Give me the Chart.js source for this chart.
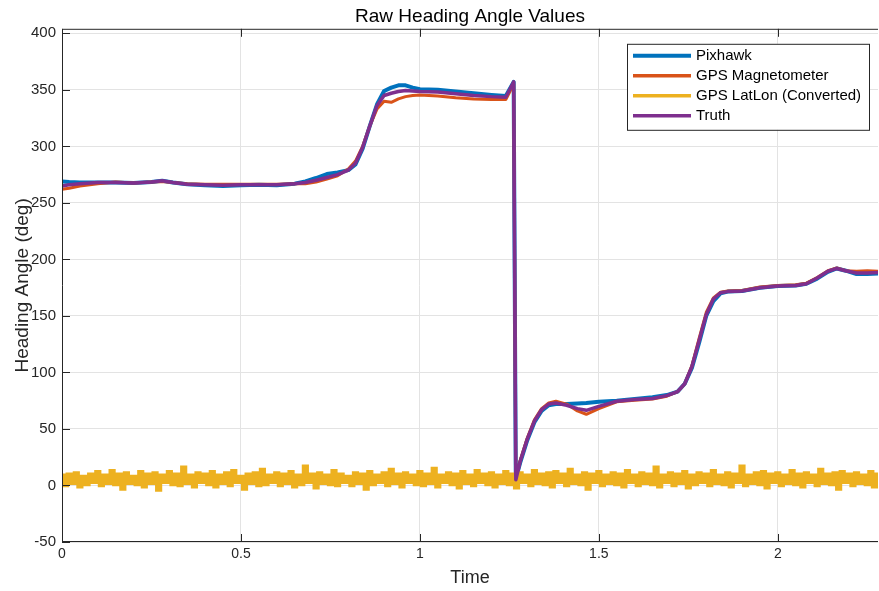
<!DOCTYPE html>
<html>
<head>
<meta charset="utf-8">
<title>Raw Heading Angle Values</title>
<script src="https://cdn.jsdelivr.net/npm/chart.js@4.4.1/dist/chart.umd.min.js"></script>
<style>
  html, body { margin: 0; padding: 0; background: #fff; }
  #wrap { width: 879px; height: 591px; }
</style>
</head>
<body>
<div id="wrap"><canvas id="myChart"></canvas></div>
<script>
// time stamps shared by the three heading traces
const tHead = [0, 0.02, 0.05, 0.1, 0.15, 0.2, 0.25, 0.28, 0.31, 0.35,
  0.4, 0.45, 0.5, 0.55, 0.6, 0.65, 0.68, 0.71, 0.74, 0.77,
  0.8, 0.82, 0.84, 0.86, 0.88, 0.9, 0.92, 0.94, 0.96, 0.98,
  1.0, 1.05, 1.1, 1.15, 1.2, 1.24, 1.262, 1.268, 1.28, 1.3,
  1.32, 1.34, 1.36, 1.38, 1.41, 1.44, 1.465, 1.5, 1.55, 1.6,
  1.65, 1.69, 1.72, 1.74, 1.76, 1.78, 1.8, 1.82, 1.84, 1.86,
  1.9, 1.95, 2.0, 2.05, 2.08, 2.11, 2.14, 2.165, 2.19, 2.22,
  2.25, 2.28];

const pixhawk = [269, 268.5, 268, 268, 268, 267.5, 268.5, 269.5, 268, 266.5,
  265.5, 265, 265.5, 266, 265.5, 267, 269, 272, 275.5, 277,
  279, 284, 298, 318, 337, 349, 352, 354, 354, 352,
  350.5, 350, 348.5, 347, 345.5, 344.5, 357, 6, 20, 40,
  56, 66, 71, 72, 72, 72.5, 73, 74, 75, 76.5,
  78, 80, 83, 90, 104, 126, 150, 163, 170, 171.5,
  172, 175, 176.5, 177, 178.5, 183, 189, 192, 190, 187,
  187, 187.5];

const gpsMag = [262, 263, 265, 267, 268.5, 267.5, 268.5, 269, 268, 267,
  266.5, 266.5, 266.5, 266.5, 266.5, 267, 267, 268.5, 271, 274,
  280, 287, 300, 318, 333, 340, 339, 342, 344, 345,
  345.5, 344.5, 343, 342, 341.5, 341.5, 355, 6, 22, 42,
  58, 68, 73, 74.5, 72, 66, 63, 68, 74, 75.5,
  76.5, 79, 83, 90, 106, 130, 153, 166, 171, 172,
  172.5, 175.5, 177, 177.5, 179, 184, 190, 192.5, 190, 189.5,
  190, 189.5];

const truth = [265, 266, 267, 268, 268, 267.5, 268.5, 269.5, 268, 266.5,
  266, 265.5, 266, 266, 266, 267, 268, 270, 272.5, 275,
  279, 285, 299, 318, 336, 345, 347, 348.5, 349.5, 349,
  348.5, 348, 346.5, 345, 344, 343.5, 357, 5, 21, 41,
  57, 67, 72, 73, 71, 68, 66.5, 70, 74.5, 76,
  77, 79.5, 83, 90, 105, 128, 151, 165, 170.5, 171.5,
  172, 175, 176.5, 177, 178.5, 183.5, 189.5, 192, 190, 188,
  188, 188.5];

// GPS lat/lon heading is sampled more often
const tLatLon = [
  0.00, 0.01, 0.02, 0.03, 0.04, 0.05, 0.06, 0.07, 0.08, 0.09,
  0.10, 0.11, 0.12, 0.13, 0.14, 0.15, 0.16, 0.17, 0.18, 0.19,
  0.20, 0.21, 0.22, 0.23, 0.24, 0.25, 0.26, 0.27, 0.28, 0.29,
  0.30, 0.31, 0.32, 0.33, 0.34, 0.35, 0.36, 0.37, 0.38, 0.39,
  0.40, 0.41, 0.42, 0.43, 0.44, 0.45, 0.46, 0.47, 0.48, 0.49,
  0.50, 0.51, 0.52, 0.53, 0.54, 0.55, 0.56, 0.57, 0.58, 0.59,
  0.60, 0.61, 0.62, 0.63, 0.64, 0.65, 0.66, 0.67, 0.68, 0.69,
  0.70, 0.71, 0.72, 0.73, 0.74, 0.75, 0.76, 0.77, 0.78, 0.79,
  0.80, 0.81, 0.82, 0.83, 0.84, 0.85, 0.86, 0.87, 0.88, 0.89,
  0.90, 0.91, 0.92, 0.93, 0.94, 0.95, 0.96, 0.97, 0.98, 0.99,
  1.00, 1.01, 1.02, 1.03, 1.04, 1.05, 1.06, 1.07, 1.08, 1.09,
  1.10, 1.11, 1.12, 1.13, 1.14, 1.15, 1.16, 1.17, 1.18, 1.19,
  1.20, 1.21, 1.22, 1.23, 1.24, 1.25, 1.26, 1.27, 1.28, 1.29,
  1.30, 1.31, 1.32, 1.33, 1.34, 1.35, 1.36, 1.37, 1.38, 1.39,
  1.40, 1.41, 1.42, 1.43, 1.44, 1.45, 1.46, 1.47, 1.48, 1.49,
  1.50, 1.51, 1.52, 1.53, 1.54, 1.55, 1.56, 1.57, 1.58, 1.59,
  1.60, 1.61, 1.62, 1.63, 1.64, 1.65, 1.66, 1.67, 1.68, 1.69,
  1.70, 1.71, 1.72, 1.73, 1.74, 1.75, 1.76, 1.77, 1.78, 1.79,
  1.80, 1.81, 1.82, 1.83, 1.84, 1.85, 1.86, 1.87, 1.88, 1.89,
  1.90, 1.91, 1.92, 1.93, 1.94, 1.95, 1.96, 1.97, 1.98, 1.99,
  2.00, 2.01, 2.02, 2.03, 2.04, 2.05, 2.06, 2.07, 2.08, 2.09,
  2.10, 2.11, 2.12, 2.13, 2.14, 2.15, 2.16, 2.17, 2.18, 2.19,
  2.20, 2.21, 2.22, 2.23, 2.24, 2.25, 2.26, 2.27, 2.28];

const gpsLatLon = [
  9, 0, 10, 2, 11, -1, 8, 1, 10, 3, 12, 0, 9, 2, 13, 1, 10, -3, 11, 2,
  8, 1, 12, -1, 10, 2, 11, -4, 9, 3, 12, 1, 10, 0, 16, 2, 9, -1, 11, 3,
  10, 1, 12, -1, 9, 2, 11, 0, 13, 3, 8, -3, 10, 2, 11, 0, 14, 1, 9, 3,
  11, 0, 10, 2, 12, -1, 9, 1, 17, 3, 10, -2, 11, 2, 9, 1, 13, 0, 10, 3,
  8, 0, 11, 2, 10, -3, 12, 1, 9, 3, 11, 0, 14, 2, 10, -1, 11, 3, 9, 1,
  12, 0, 10, 2, 15, -1, 9, 3, 11, 1, 10, -2, 12, 2, 9, 0, 13, 3, 10, 1,
  11, -1, 9, 2, 12, 1, 10, -2, 11, 3, 9, 0, 13, 2, 10, 1, 11, -1, 12, 3,
  10, 0, 14, 2, 9, 1, 11, -3, 10, 3, 12, 0, 9, 2, 11, 1, 10, -1, 13, 3,
  9, 0, 11, 2, 10, 1, 16, -1, 9, 3, 11, 0, 10, 2, 12, -2, 9, 1, 11, 3,
  10, 0, 13, 2, 9, 1, 11, -1, 10, 3, 17, 0, 9, 2, 11, 1, 12, -2, 10, 3,
  11, 0, 9, 2, 13, 1, 10, -1, 11, 3, 9, 0, 14, 2, 10, 1, 11, -3, 12, 3,
  10, 0, 11, 2, 9, 1, 12, -1, 10];

const xTicks = [0, 0.5, 1, 1.5, 2];
const yTicks = [-50, 0, 50, 100, 150, 200, 250, 300, 350, 400];

const pts = (xs, ys) => xs.map((x, i) => ({x: x, y: ys[i]}));
const FONT = '"Liberation Sans", Arial, sans-serif';
const INK = '#262626';

// MATLAB-ish box, inward ticks and legend
const matlabAxes = {
  id: 'matlabAxes',
  afterDatasetsDraw(chart) {
    const {ctx, chartArea: a, scales: {x, y}} = chart;
    ctx.save();
    ctx.strokeStyle = INK;
    ctx.lineWidth = 1;
    ctx.beginPath();
    xTicks.forEach(v => {
      const px = Math.round(x.getPixelForValue(v)) + 0.5;
      ctx.moveTo(px, a.bottom); ctx.lineTo(px, a.bottom - 8);
      ctx.moveTo(px, a.top); ctx.lineTo(px, a.top + 8);
    });
    yTicks.forEach(v => {
      const py = Math.round(y.getPixelForValue(v)) + 0.5;
      ctx.moveTo(a.left, py); ctx.lineTo(a.left + 8, py);
    });
    ctx.moveTo(a.left + 0.5, a.bottom); ctx.lineTo(a.left + 0.5, a.top + 0.5);
    ctx.lineTo(a.right, a.top + 0.5);
    ctx.moveTo(a.left, a.bottom - 0.5); ctx.lineTo(a.right, a.bottom - 0.5);
    ctx.stroke();

    const lx = a.right - 251, ly = a.top + 15, lw = 242, lh = 86;
    ctx.fillStyle = '#fff';
    ctx.fillRect(lx, ly, lw, lh);
    ctx.strokeStyle = INK;
    ctx.strokeRect(lx + 0.5, ly + 0.5, lw, lh);
    ctx.font = '15px ' + FONT;
    ctx.textBaseline = 'middle';
    chart.data.datasets.forEach((ds, i) => {
      const yy = ly + 12 + i * 20;
      ctx.strokeStyle = ds.borderColor;
      ctx.lineWidth = i === 0 ? 4 : 3.5;
      ctx.beginPath();
      ctx.moveTo(lx + 6, yy); ctx.lineTo(lx + 64, yy);
      ctx.stroke();
      ctx.fillStyle = '#000';
      ctx.fillText(ds.label, lx + 69, yy);
    });
    ctx.restore();
  }
};

new Chart('myChart', {
  type: 'line',
  data: {
    datasets: [
      {label: 'Pixhawk', data: pts(tHead, pixhawk), borderColor: '#0072BD', borderWidth: 4, order: 4},
      {label: 'GPS Magnetometer', data: pts(tHead, gpsMag), borderColor: '#D95319', borderWidth: 3, order: 3},
      {label: 'GPS LatLon (Converted)', data: pts(tLatLon, gpsLatLon), borderColor: '#EDB120', borderWidth: 3.6, stepped: 'middle', borderJoinStyle: 'miter', borderCapStyle: 'butt', order: 2},
      {label: 'Truth', data: pts(tHead, truth), borderColor: '#7E2F8E', borderWidth: 3.5, order: 1}
    ]
  },
  options: {
    responsive: true,
    maintainAspectRatio: false,
    animation: false,
    devicePixelRatio: 1,
    layout: {padding: {left: 0, right: 1, top: 0, bottom: 0}},
    elements: {
      point: {radius: 0},
      line: {tension: 0, borderJoinStyle: 'round', borderCapStyle: 'round'}
    },
    plugins: {
      legend: {display: false},
      tooltip: {enabled: false},
      title: {
        display: true,
        fullSize: false,
        text: 'Raw Heading Angle Values',
        color: '#000',
        font: {family: FONT, size: 19, weight: 'normal'},
        padding: {top: 5, bottom: 1}
      }
    },
    scales: {
      x: {
        type: 'linear',
        min: 0,
        max: 2.28,
        afterBuildTicks: s => { s.ticks = xTicks.map(v => ({value: v})); },
        afterFit: s => { s.height = 49; },
        ticks: {color: INK, font: {family: FONT, size: 14}, padding: 4, maxRotation: 0, callback: v => String(v)},
        grid: {color: '#e3e3e3', drawTicks: false},
        border: {display: false},
        title: {display: true, text: 'Time', color: INK, font: {family: FONT, size: 18}, padding: {top: 0, bottom: 2}}
      },
      y: {
        type: 'linear',
        min: -50,
        max: 404,
        afterBuildTicks: s => { s.ticks = yTicks.map(v => ({value: v})); },
        afterFit: s => { s.width = 62; },
        ticks: {color: INK, font: {family: FONT, size: 15}, padding: 6, callback: v => String(v)},
        grid: {color: '#e3e3e3', drawTicks: false},
        border: {display: false},
        title: {display: true, text: 'Heading Angle (deg)', color: INK, font: {family: FONT, size: 19}, padding: {top: 11, bottom: 0}}
      }
    }
  },
  plugins: [matlabAxes]
});
</script>
</body>
</html>
